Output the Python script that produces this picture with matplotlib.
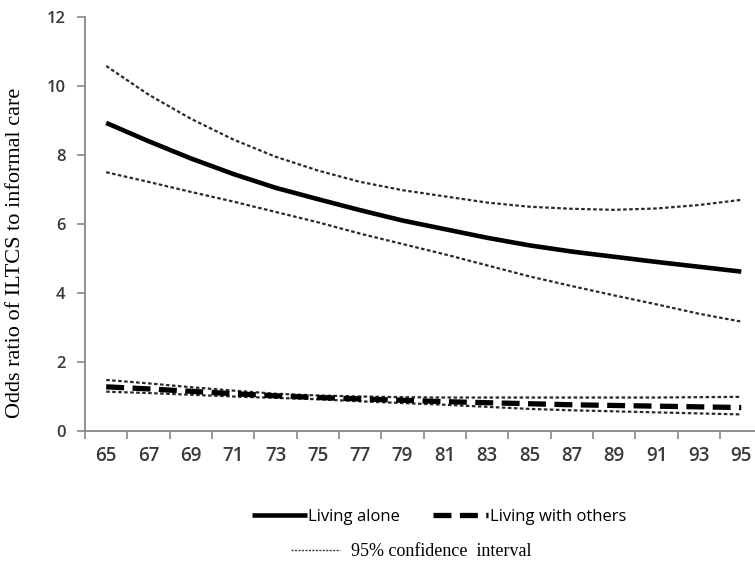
import numpy as np
import matplotlib
matplotlib.use("Agg")
import matplotlib.pyplot as plt
from matplotlib.ticker import MultipleLocator, FixedLocator

# age (every second year)
ages = [65, 67, 69, 71, 73, 75, 77, 79, 81, 83, 85, 87, 89, 91, 93, 95]

# living alone: odds ratio and 95% CI
alone = [8.93, 8.40, 7.90, 7.45, 7.05, 6.72, 6.40, 6.10, 5.85, 5.60, 5.38, 5.20, 5.05, 4.90, 4.76, 4.62]
alone_hi = [10.58, 9.75, 9.05, 8.45, 7.95, 7.55, 7.22, 6.98, 6.80, 6.62, 6.50, 6.44, 6.41, 6.45, 6.55, 6.70]
alone_lo = [7.50, 7.22, 6.93, 6.65, 6.35, 6.05, 5.72, 5.42, 5.12, 4.80, 4.48, 4.20, 3.93, 3.67, 3.40, 3.17]

# living with others: odds ratio and 95% CI
others = [1.28, 1.22, 1.15, 1.08, 1.02, 0.97, 0.93, 0.89, 0.85, 0.82, 0.79, 0.76, 0.74, 0.72, 0.70, 0.68]
others_hi = [1.48, 1.38, 1.27, 1.17, 1.08, 1.03, 1.00, 0.98, 0.97, 0.97, 0.97, 0.97, 0.97, 0.97, 0.98, 0.99]
others_lo = [1.14, 1.10, 1.05, 1.00, 0.96, 0.92, 0.86, 0.81, 0.76, 0.70, 0.64, 0.60, 0.57, 0.54, 0.51, 0.48]

fig = plt.figure(figsize=(7.55, 5.62), dpi=100)
ax = fig.add_axes([0.1126, 0.2331, 0.8874, 0.7367])

ci_style = dict(color="#2a2a2a", lw=1.6, linestyle=(0, (1.6, 1.1)))
ax.plot(ages, alone_hi, **ci_style)
ax.plot(ages, alone_lo, **ci_style)
ax.plot(ages, others_hi, **ci_style)
ax.plot(ages, others_lo, **ci_style)
l1, = ax.plot(ages, alone, color="black", lw=3.3, solid_capstyle="butt")
l2, = ax.plot(ages, others, color="black", lw=3.8, linestyle=(0, (3.4, 1.6)))

ax.set_xlim(64, 95.65)
ax.set_ylim(0, 12)

# tick marks between labels (even years), labels on odd years
ax.xaxis.set_major_locator(FixedLocator(list(range(64, 96, 2))))
ax.xaxis.set_minor_locator(FixedLocator(ages))
ax.xaxis.set_major_formatter(plt.NullFormatter())
ax.xaxis.set_minor_formatter(plt.FixedFormatter([str(a) for a in ages]))
ax.tick_params(axis="x", which="major", direction="out", length=6, width=1.2, color="#888888")
ax.tick_params(axis="x", which="minor", length=0, pad=11, labelsize=13.5, labelcolor="#3a3a3a")
for t in ax.xaxis.get_minorticklabels():
    t.set_fontfamily("Open Sans")
    t.set_fontweight("semibold")

ax.yaxis.set_major_locator(MultipleLocator(2))
ax.tick_params(axis="y", direction="out", length=6, width=1.2, color="#888888",
               labelsize=12, labelcolor="#3a3a3a", pad=8)
for t in ax.get_yticklabels():
    t.set_fontfamily("Open Sans")
    t.set_fontweight("semibold")

for s in ["top", "right"]:
    ax.spines[s].set_visible(False)
for s in ["left", "bottom"]:
    ax.spines[s].set_color("#888888")
    ax.spines[s].set_linewidth(1.3)

fig.text(0.021, 1 - 253 / 562, "Odds ratio of ILTCS to informal care", rotation=90,
         ha="center", va="center", fontsize=16, family="Liberation Serif")

# legend
fig.legend([l1, l2], ["Living alone", "Living with others"], loc="center",
           bbox_to_anchor=(0.5815, 0.080), ncol=2, frameon=False, borderpad=0,
           handlelength=3.3, handletextpad=0.1, columnspacing=2.0,
           prop={"family": "Open Sans", "size": 12})
ci_handle = plt.Line2D([], [], color="#333333", lw=1.0, linestyle=(0, (1.5, 1)))
fig.legend([ci_handle], ["95% confidence  interval"], loc="center",
           bbox_to_anchor=(0.545, 0.018), frameon=False, borderpad=0,
           handlelength=2.7, handletextpad=0.6,
           prop={"family": "Liberation Serif", "size": 13})

fig.savefig("out.png", dpi=100)
